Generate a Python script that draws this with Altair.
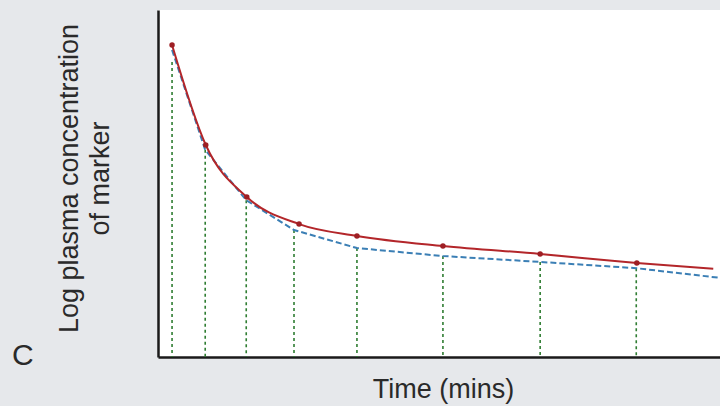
import altair as alt
import pandas as pd

# Measured (red) curve: time vs log concentration (arbitrary units)
red_t = [2.5, 8.5, 15.8, 25.1, 35.4, 50.7, 68.0, 85.2, 98.8]
red_y = [89.9, 61.1, 46.1, 38.3, 34.9, 32.0, 29.7, 27.1, 25.4]
red_dot = [True, True, True, True, True, True, True, True, False]

# Fitted (blue dashed) curve
blue_t = [2.5, 8.4, 15.7, 24.2, 35.4, 50.7, 68.0, 85.1, 100.0]
blue_y = [88.5, 59.7, 45.2, 36.6, 31.4, 29.1, 27.4, 25.6, 22.8]

# Sampling times (green dashed verticals)
samp_t = [2.5, 8.4, 15.7, 24.2, 35.4, 50.7, 68.0, 85.1]
samp_y = [85.0, 59.7, 45.2, 36.6, 31.4, 29.1, 27.4, 25.6]

red = pd.DataFrame({"t": red_t, "y": red_y, "dot": red_dot})
blue = pd.DataFrame({"t": blue_t, "y": blue_y})
samp = pd.DataFrame({"t": samp_t, "y": samp_y, "y0": [0.0] * len(samp_t)})

xs = alt.Scale(domain=[0, 100], nice=False, zero=False)
ys = alt.Scale(domain=[0, 100], nice=False, zero=False)

xax = alt.Axis(title="Time (mins)", labels=False, ticks=False, grid=False,
               domainColor="#1a1a1a", domainWidth=2.5, titleFontSize=27,
               titleFont="Liberation Sans", titleFontWeight="normal",
               titleColor="#2a2a2a", titlePadding=19, titleX=285)
yax = alt.Axis(title=["Log plasma concentration", "of marker"], labels=False,
               ticks=False, grid=False, domainColor="#1a1a1a", domainWidth=2.5,
               titleFontSize=27, titleFont="Liberation Sans",
               titleFontWeight="normal", titleColor="#2a2a2a",
               titlePadding=44, titleLineHeight=31, titleY=168)

rules = alt.Chart(samp).mark_rule(color="#2f7d32", strokeWidth=1.6,
                                   strokeDash=[3, 3]).encode(
    x=alt.X("t:Q", scale=xs, axis=xax),
    y=alt.Y("y:Q", scale=ys, axis=yax),
    y2="y0:Q",
)

blue_line = alt.Chart(blue).mark_line(color="#3b7fb5", strokeWidth=2,
                                      strokeDash=[6, 3]).encode(
    x=alt.X("t:Q", scale=xs), y=alt.Y("y:Q", scale=ys))

red_line = alt.Chart(red).mark_line(color="#b3262a", strokeWidth=2,
                                    interpolate="monotone").encode(
    x=alt.X("t:Q", scale=xs), y=alt.Y("y:Q", scale=ys))

red_pts = alt.Chart(red).transform_filter("datum.dot").mark_circle(
    color="#9e1f24", size=30, opacity=1).encode(
    x=alt.X("t:Q", scale=xs), y=alt.Y("y:Q", scale=ys))

label = alt.Chart(pd.DataFrame({"txt": ["C"]})).mark_text(
    fontSize=30, font="Liberation Sans", color="#2a2a2a", align="left",
    baseline="middle").encode(text="txt:N", x=alt.value(-146), y=alt.value(346))

chart = alt.layer(rules, blue_line, red_line, red_pts, label).properties(
    width=562, height=347,
    autosize=alt.AutoSizeParams(type="none"),
    padding={"left": 158, "top": 10, "right": 0, "bottom": 49},
    background="#e6e8eb",
).configure_view(stroke=None, fill="white")

chart.save("out.html", embed_options={"renderer": "svg", "actions": False})
